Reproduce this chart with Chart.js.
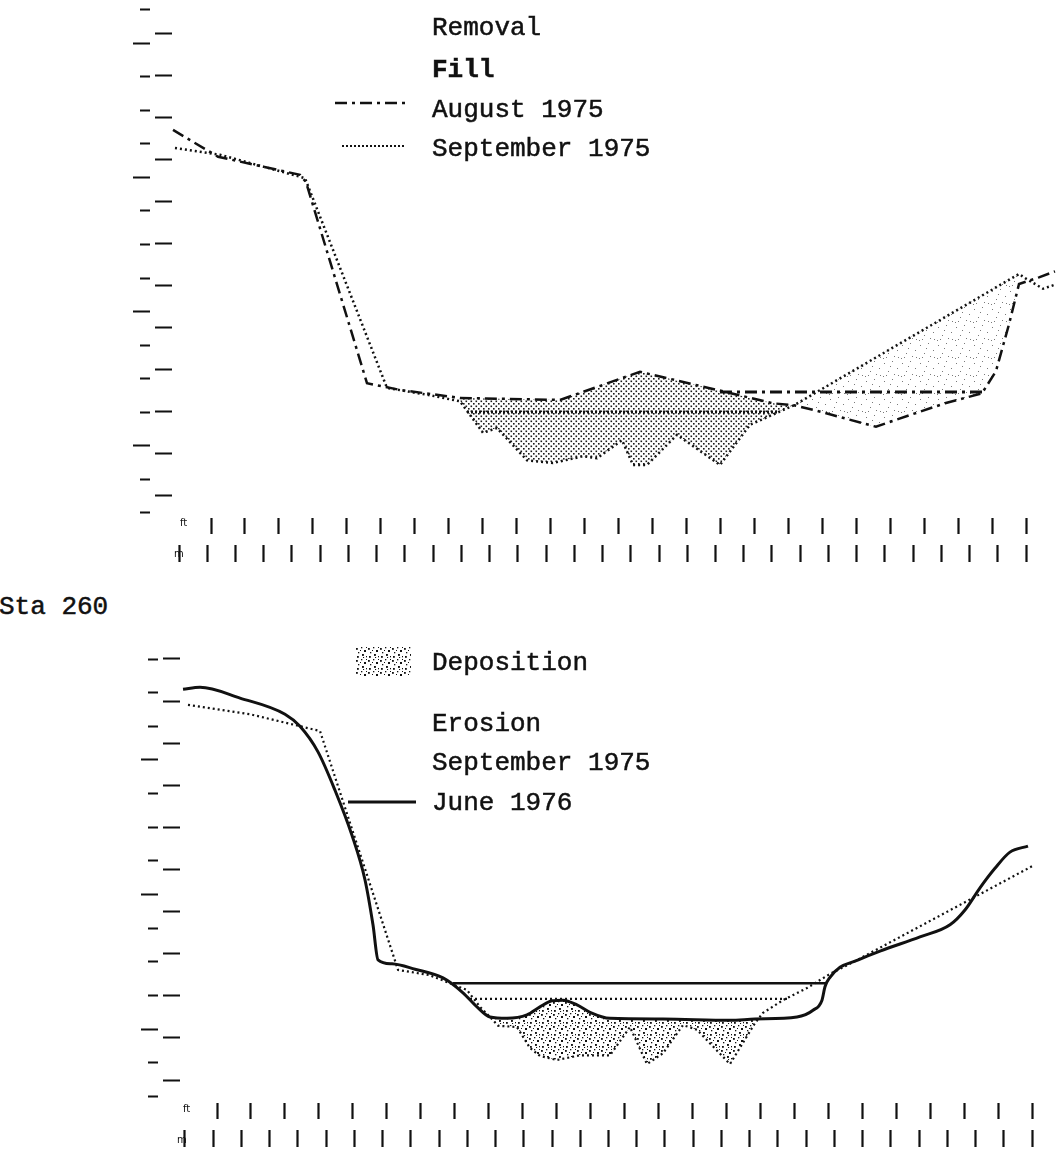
<!DOCTYPE html>
<html>
<head>
<meta charset="utf-8">
<title>Sta 260</title>
<script src="https://cdn.jsdelivr.net/npm/chart.js@4.4.1/dist/chart.umd.min.js"></script>
<style>
    body { margin: 0; background: #fff; }
    #page { position: relative; width: 1056px; height: 1163px; overflow: hidden; color: #111; font-family: "Liberation Mono", "DejaVu Sans Mono", monospace; }
    canvas { position: absolute; left: 0; }
    #topChart { top: 0; }
    #bottomChart { top: 640px; }
    .lbl { position: absolute; left: 432px; font-size: 26px; line-height: 26px; white-space: nowrap; -webkit-text-stroke: 0.5px #111; }
    .unit { position: absolute; font: 10px "DejaVu Sans", sans-serif; }
    .key { position: absolute; }
    #swatch { position: absolute; left: 355px; top: 646px; width: 56px; height: 30px; }
</style>
</head>
<body>
<div id="page">
    <canvas id="topChart" width="1056" height="569"></canvas>
    <canvas id="bottomChart" width="1056" height="514"></canvas>

    <div class="lbl" style="top:15px">Removal</div>
    <div class="lbl" style="top:57px;font-weight:bold">Fill</div>
    <div class="lbl" style="top:97px">August 1975</div>
    <div class="lbl" style="top:136px">September 1975</div>
    <svg class="key" style="left:330px;top:96px" width="80" height="14"><line x1="5" y1="7" x2="76" y2="7" stroke="#111" stroke-width="2.5" stroke-dasharray="12 5 3 5"/></svg>
    <svg class="key" style="left:338px;top:139px" width="72" height="14"><line x1="4" y1="7" x2="68" y2="7" stroke="#111" stroke-width="2" stroke-dasharray="2 2"/></svg>

    <div class="unit" style="left:180px;top:517px">ft</div>
    <div class="unit" style="left:174px;top:548px">m</div>

    <div class="lbl" style="left:-1px;top:594px">Sta 260</div>

    <div id="swatch"></div>
    <div class="lbl" style="top:650px">Deposition</div>
    <div class="lbl" style="top:711px">Erosion</div>
    <div class="lbl" style="top:750px">September 1975</div>
    <div class="lbl" style="top:790px">June 1976</div>
    <svg class="key" style="left:344px;top:795px" width="76" height="14"><line x1="4" y1="7" x2="72" y2="7" stroke="#111" stroke-width="3"/></svg>

    <div class="unit" style="left:183px;top:1103px">ft</div>
    <div class="unit" style="left:177px;top:1134px">m</div>
</div>

<script>
// distance across the section in metres, elevation in metres

// upper panel
const augX = [-1.06, 6.91, 21.43, 22.49, 33.29, 39.13, 49.76, 67.47, 81.63, 95.27, 105.19, 108.90, 112.45, 123.42, 129.62, 135.64, 142.20, 144.67, 146.98, 148.75, 152.29, 155.12];
const augY = [5.21, 4.81, 4.54, 4.43, 1.43, 1.33, 1.21, 1.18, 1.60, 1.33, 1.13, 1.10, 1.03, 0.78, 0.96, 1.13, 1.28, 1.61, 2.31, 2.91, 3.01, 3.10];
const sepTopX = [-0.71, 7.26, 22.31, 36.83, 44.45, 49.76, 53.83, 56.31, 61.62, 66.23, 71.54, 74.02, 78.45, 80.39, 82.87, 88.19, 95.80, 101.11, 108.90, 148.75, 149.99, 153.00, 155.12];
const sepTopY = [4.94, 4.84, 4.49, 1.36, 1.25, 1.16, 0.69, 0.76, 0.28, 0.24, 0.34, 0.31, 0.58, 0.21, 0.21, 0.66, 0.21, 0.81, 1.10, 3.06, 2.99, 2.84, 2.90];
const augWaterX = [95.80, 142.20];
const augWaterY = [1.30, 1.30];
const sepTopWaterX = [51.00, 106.25];
const sepTopWaterY = [1.00, 1.00];
const topChangeFrom = 49.76;
const topChangeTo = 148.75;

// lower panel
const junX = [-0.35, 2.66, 9.74, 17.71, 20.36, 23.55, 26.56, 29.57, 31.87, 33.29, 34.18, 36.66, 40.73, 45.69, 49.23, 51.71, 54.01, 57.02, 60.56, 62.86, 64.99, 66.94, 69.42, 71.72, 75.26, 84.64, 96.51, 100.94, 108.37, 111.21, 112.80, 113.33, 114.22, 115.99, 118.64, 123.07, 130.15, 135.47, 138.12, 140.78, 143.43, 146.09, 149.28];
const junY = [6.55, 6.58, 6.42, 6.18, 6.00, 5.62, 5.05, 4.38, 3.72, 3.05, 2.53, 2.47, 2.39, 2.26, 2.04, 1.83, 1.68, 1.66, 1.71, 1.83, 1.92, 1.93, 1.86, 1.75, 1.66, 1.65, 1.63, 1.65, 1.68, 1.78, 1.93, 2.13, 2.27, 2.42, 2.51, 2.66, 2.87, 3.05, 3.27, 3.60, 3.89, 4.13, 4.22];
const sepBotX = [0.53, 11.51, 23.91, 37.72, 43.38, 46.93, 49.94, 52.24, 54.01, 55.43, 58.79, 61.09, 62.86, 65.87, 69.95, 75.26, 78.80, 81.81, 84.64, 88.19, 90.66, 96.51, 100.94, 102.35, 105.89, 110.14, 114.22, 117.76, 149.99];
const sepBotY = [6.32, 6.18, 5.93, 2.38, 2.30, 2.18, 2.08, 1.83, 1.68, 1.55, 1.53, 1.22, 1.10, 1.04, 1.11, 1.11, 1.53, 0.98, 1.14, 1.56, 1.49, 0.98, 1.59, 1.74, 1.93, 2.11, 2.32, 2.47, 3.92];
const junWaterX = [47.46, 113.69];
const junWaterY = [2.18, 2.18];
const sepBotWaterX = [50.47, 106.60];
const sepBotWaterY = [1.95, 1.95];
const botChangeFrom = 54.01;
const botChangeTo = 100.94;

// tick marks (no labels in the original)
const xMeterTicks = [0, 5, 10, 15, 20, 25, 30, 35, 40, 45, 50, 55, 60, 65, 70, 75, 80, 85, 90, 95, 100, 105, 110, 115, 120, 125, 130, 135, 140, 145, 150];
const xFeetTicks = [0, 20, 40, 60, 80, 100, 120, 140, 160, 180, 200, 220, 240, 260, 280, 300, 320, 340, 360, 380, 400, 420, 440, 460, 480];
const yMeterTicks = [-0.5, 0, 0.5, 1, 1.5, 2, 2.5, 3, 3.5, 4, 4.5, 5, 5.5, 6, 6.5, 7];
const yFeetTicks = [0, 2, 4, 6, 8, 10, 12, 14, 16, 18, 20, 22];
const topMajorY = [0.5, 2.5, 4.5, 6.5];
const botMajorY = [1.5, 3.5, 5.5];


function pts(xs, ys) {
    return xs.map((x, i) => ({ x: x, y: ys[i] }));
}

function between(xs, ys, a, b) {
    return pts(xs, ys).filter(p => p.x >= a && p.x <= b);
}

function fixedTicks(values) {
    return function (scale) {
        scale.ticks = values.filter(v => v >= scale.min && v <= scale.max).map(v => ({ value: v }));
    };
}

function makeTile(size, dots, color) {
    const tile = document.createElement('canvas');
    tile.width = size;
    tile.height = size;
    const c = tile.getContext('2d');
    c.fillStyle = color;
    dots.forEach(d => c.fillRect(d[0], d[1], d[2], d[2]));
    return tile;
}

const removalTile = makeTile(5, [[0.5, 0.5, 1.6], [3, 3, 1.6]], '#1a1a1a');
const fillTile = makeTile(18, [[2, 3, 1], [10, 1, 1], [15, 8, 1], [6, 11, 1], [12, 14, 1], [1, 16, 1], [8, 6, 1], [16, 15, 1], [4, 15, 1]], '#7a7a7a');
const depositTile = makeTile(12, [[1, 2, 1.8], [6, 1, 1.3], [9, 4, 2], [3, 6, 1.3], [7, 8, 1.9], [11, 10, 1.3], [2, 10, 1.8], [5, 4, 1], [11, 1, 1], [8, 11, 1.1]], '#111');

document.getElementById('swatch').style.backgroundImage = 'url(' + depositTile.toDataURL() + ')';


function tickAxis(position, weight, range, values, length, dash) {
    return {
        type: 'linear',
        position: position,
        weight: weight,
        min: range[0],
        max: range[1],
        bounds: 'data',
        afterBuildTicks: fixedTicks(values),
        ticks: { display: false },
        border: { display: false },
        grid: {
            drawOnChartArea: false,
            drawTicks: true,
            tickLength: length,
            tickWidth: 2.2,
            tickColor: '#111',
            tickBorderDash: dash
        }
    };
}

function line(xs, ys, width, dash, extra) {
    return Object.assign({
        data: pts(xs, ys),
        borderColor: '#111',
        borderWidth: width,
        borderDash: dash,
        pointRadius: 0,
        fill: false
    }, extra || {});
}

function crossSection(canvas, datasets, r, padLeft, majors) {
    return new Chart(canvas, {
        type: 'line',
        data: { datasets: datasets },
        options: {
            responsive: false,
            animation: false,
            devicePixelRatio: 1,
            events: [],
            layout: { padding: { left: padLeft, top: 0, right: 0, bottom: 0 } },
            plugins: {
                legend: { display: false },
                tooltip: { enabled: false },
                filler: { drawTime: 'beforeDatasetsDraw' }
            },
            scales: {
                x: { type: 'linear', display: false, min: r.x[0], max: r.x[1], bounds: 'data' },
                y: { type: 'linear', display: false, min: r.y[0], max: r.y[1], bounds: 'data' },
                xft: tickAxis('bottom', 1, r.xft, xFeetTicks, 24, [0, 3, 16, 100]),
                xm: tickAxis('bottom', 2, r.x, xMeterTicks, 30, [0, 6, 17, 100]),
                yft: tickAxis('left', 1, r.yft, yFeetTicks, 20, [0, 3, 17, 100]),
                ym: tickAxis('left', 2, r.y, yMeterTicks, 24, function (ctx) {
                    return ctx.tick && majors.includes(ctx.tick.value) ? [0, 5, 17, 100] : [0, 12, 10, 100];
                })
            }
        }
    });
}

const dashDot = [12, 5, 3, 5];
const dotted = [2, 3];

const topCtx = document.getElementById('topChart').getContext('2d');
crossSection(document.getElementById('topChart'), [
    line(augX, augY, 2.5, dashDot),
    line(sepTopX, sepTopY, 2.5, dotted),
    line(augWaterX, augWaterY, 3, dashDot),
    line(sepTopWaterX, sepTopWaterY, 3, [2, 2]),
    {
        data: between(augX, augY, topChangeFrom, topChangeTo),
        borderWidth: 0,
        borderColor: 'rgba(0,0,0,0)',
        pointRadius: 0,
        fill: { target: 5, above: topCtx.createPattern(removalTile, 'repeat'), below: topCtx.createPattern(fillTile, 'repeat') }
    },
    {
        data: between(sepTopX, sepTopY, topChangeFrom, topChangeTo),
        borderWidth: 0,
        borderColor: 'rgba(0,0,0,0)',
        pointRadius: 0,
        fill: false
    }
], {
    x: [-1.24, 155.30],
    xft: [-22.97, 497.6],
    y: [-0.537, 7.149],
    yft: [-0.905, 23.619]
}, 128, topMajorY);

const botCtx = document.getElementById('bottomChart').getContext('2d');
crossSection(document.getElementById('bottomChart'), [
    line(junX, junY, 3, [], { cubicInterpolationMode: 'monotone' }),
    line(sepBotX, sepBotY, 2.2, dotted),
    line(junWaterX, junWaterY, 2.5, []),
    line(sepBotWaterX, sepBotWaterY, 2.2, dotted),
    {
        data: between(junX, junY, botChangeFrom, botChangeTo),
        borderWidth: 0,
        borderColor: 'rgba(0,0,0,0)',
        pointRadius: 0,
        cubicInterpolationMode: 'monotone',
        fill: { target: 5, above: botCtx.createPattern(depositTile, 'repeat'), below: 'rgba(0,0,0,0)' }
    },
    {
        data: between(sepBotX, sepBotY, botChangeFrom, botChangeTo),
        borderWidth: 0,
        borderColor: 'rgba(0,0,0,0)',
        pointRadius: 0,
        fill: false
    }
], {
    x: [-0.885, 154.24],
    xft: [-21.79, 494.1],
    y: [0.446, 7.283],
    yft: [-0.950, 20.90]
}, 136, botMajorY);
</script>
</body>
</html>
